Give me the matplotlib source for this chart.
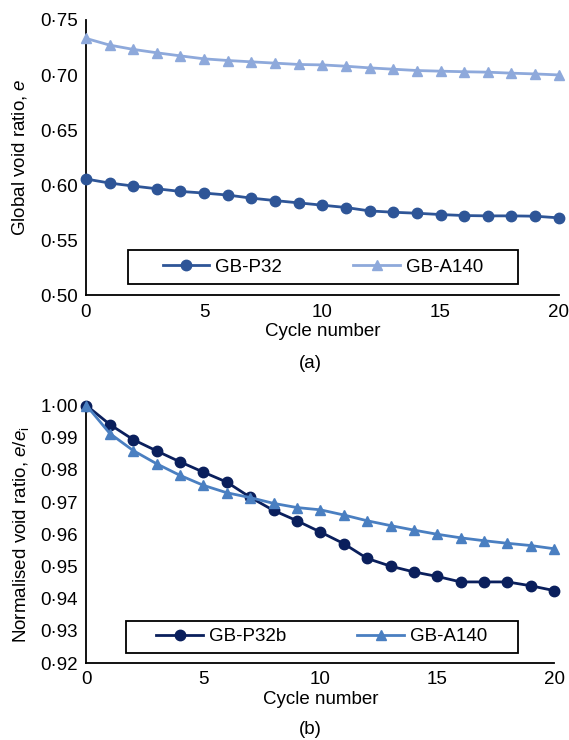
import numpy as np
import matplotlib.pyplot as plt
from matplotlib.patches import Rectangle
from matplotlib.ticker import FuncFormatter, MultipleLocator

plt.rcParams['font.family'] = ['Liberation Sans', 'DejaVu Sans']
plt.rcParams['mathtext.fontset'] = 'custom'
plt.rcParams['mathtext.rm'] = 'Liberation Sans'
plt.rcParams['mathtext.it'] = 'Liberation Sans:italic'
FS = 13.5

cycles = np.arange(0, 21)

# (a) global void ratio
e_p32 = [0.6056, 0.6019, 0.5992, 0.5967, 0.5943, 0.5928, 0.5910, 0.5882, 0.5860,
         0.5839, 0.5818, 0.5797, 0.5766, 0.5754, 0.5745, 0.5733, 0.5724, 0.5721,
         0.5721, 0.5718, 0.5703]
e_a140 = [0.7333, 0.7272, 0.7233, 0.7202, 0.7174, 0.7147, 0.7132, 0.7120, 0.7108,
          0.7096, 0.7092, 0.7080, 0.7065, 0.7053, 0.7041, 0.7035, 0.7030, 0.7026,
          0.7017, 0.7010, 0.7001]

# (b) normalised void ratio
n_p32b = [1.0000, 0.9941, 0.9894, 0.9859, 0.9825, 0.9793, 0.9762, 0.9715, 0.9674,
          0.9642, 0.9607, 0.9571, 0.9525, 0.9501, 0.9483, 0.9469, 0.9452, 0.9452,
          0.9452, 0.9440, 0.9425]
n_a140 = [1.0000, 0.9913, 0.9860, 0.9819, 0.9783, 0.9752, 0.9729, 0.9714, 0.9696,
          0.9683, 0.9676, 0.9660, 0.9642, 0.9627, 0.9613, 0.9600, 0.9589, 0.9580,
          0.9572, 0.9565, 0.9555]

dot_fmt = FuncFormatter(lambda v, p: f'{v:.2f}'.replace('.', '\u00b7'))

fig = plt.figure(figsize=(5.69, 7.4), dpi=100)
ax1 = fig.add_axes([0.151, 0.601, 0.831, 0.372])
ax2 = fig.add_axes([0.152, 0.104, 0.822, 0.348])


def style(ax, ylo, yhi, step):
    ax.set_xlim(0, 20)
    ax.set_ylim(ylo, yhi)
    ax.xaxis.set_major_locator(MultipleLocator(5))
    ax.yaxis.set_major_locator(MultipleLocator(step))
    ax.yaxis.set_major_formatter(dot_fmt)
    for s in ['top', 'right']:
        ax.spines[s].set_visible(False)
    for s in ['left', 'bottom']:
        ax.spines[s].set_linewidth(1.3)
    ax.tick_params(length=0, pad=6, labelsize=FS)
    ax.set_xlabel('Cycle number', fontsize=FS, labelpad=2)


def framed_legend(ax, box):
    ax.add_patch(Rectangle(box[:2], box[2], box[3], transform=ax.transAxes,
                           fill=False, edgecolor='black', linewidth=1.3,
                           clip_on=False, zorder=5))
    ax.legend(ncol=2, frameon=False, loc='center',
              bbox_to_anchor=(box[0] + box[2] / 2, box[1] + box[3] / 2),
              handlelength=2.5, handletextpad=0.3, columnspacing=3.8,
              fontsize=FS)


ax1.plot(cycles, e_p32, color='#2E5597', marker='o', markersize=7.5,
         linewidth=2, label='GB-P32', clip_on=False, zorder=3)
ax1.plot(cycles, e_a140, color='#8EA9DB', marker='^', markersize=7.5,
         linewidth=2, label='GB-A140', clip_on=False, zorder=3)
style(ax1, 0.50, 0.75, 0.05)
ax1.set_ylabel('Global void ratio, $e$', fontsize=FS, labelpad=8)
framed_legend(ax1, (0.089, 0.04, 0.824, 0.124))

ax2.plot(cycles, n_p32b, color='#0A1F5C', marker='o', markersize=7.5,
         linewidth=2, label='GB-P32b', clip_on=False, zorder=3)
ax2.plot(cycles, n_a140, color='#4A7FC1', marker='^', markersize=7.5,
         linewidth=2, label='GB-A140', clip_on=False, zorder=3)
style(ax2, 0.92, 1.00, 0.01)
ax2.set_ylabel('Normalised void ratio, $e$/$e_\\mathrm{i}$', fontsize=FS, labelpad=7)
framed_legend(ax2, (0.084, 0.039, 0.838, 0.125))

fig.text(0.545, 1 - 363 / 740, '(a)', ha='center', va='center', fontsize=FS)
fig.text(0.545, 1 - 729 / 740, '(b)', ha='center', va='center', fontsize=FS)

fig.savefig('out.png', dpi=100)
